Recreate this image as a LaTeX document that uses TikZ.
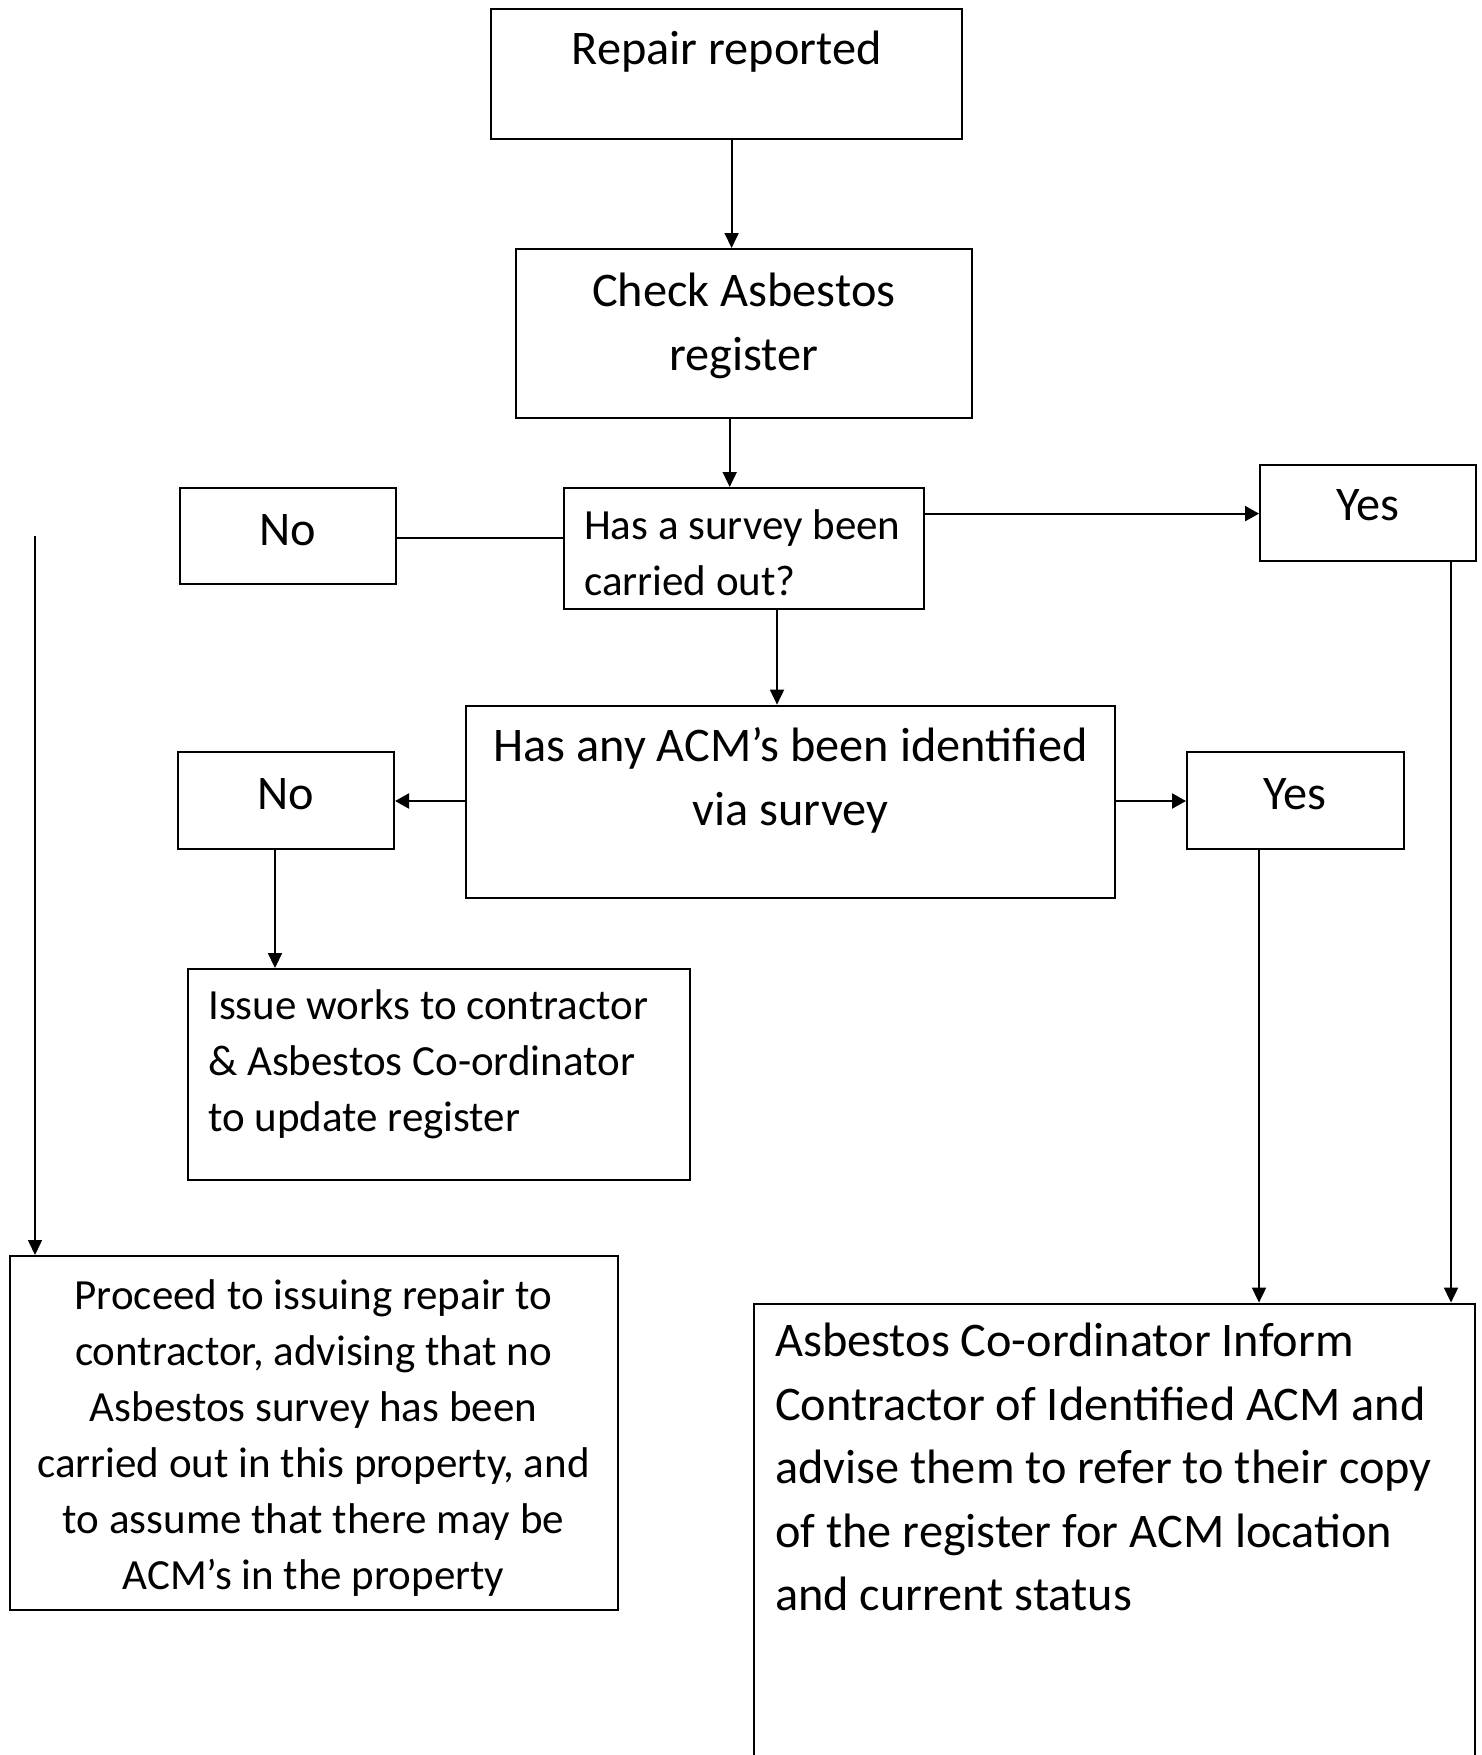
\documentclass[tikz,border=0pt]{standalone}
\usepackage{fontspec}
\setmainfont{Carlito}
\usetikzlibrary{arrows.meta}

\begin{document}
\begin{tikzpicture}[x=1pt,y=-1pt,
  box/.style={draw=black, line width=2pt, inner sep=0pt},
  big/.style={font=\fontsize{48.3}{63.5}\selectfont, inner sep=0pt},
  small/.style={font=\fontsize{43}{56}\selectfont, inner sep=0pt},
  arr/.style={-{Triangle[length=15pt,width=14pt]}, line width=1.8pt},
  harr/.style={-{Triangle[length=14pt,width=15pt]}, line width=2.2pt},
  link/.style={line width=2.2pt}]

\useasboundingbox (0,0) rectangle (1482,1755);

% boxes
\node[box, minimum width=471pt,   minimum height=130.5pt] (rep)     at (726.5,74.25)  {};
\node[box, minimum width=455.6pt, minimum height=169pt]   (check)   at (743.8,333.5)  {};
\node[box, minimum width=360pt,   minimum height=121pt]   (survey)  at (744,548.5)    {};
\node[box, minimum width=216.4pt, minimum height=96pt]    (noa)     at (287.8,536)    {};
\node[box, minimum width=216pt,   minimum height=95.7pt]  (yesa)    at (1368,512.9)   {};
\node[box, minimum width=649pt,   minimum height=192pt]   (acmq)    at (790.5,801.65) {};
\node[box, minimum width=216.3pt, minimum height=97pt]    (nob)     at (285.9,800.5)  {};
\node[box, minimum width=216.6pt, minimum height=97pt]    (yesb)    at (1295.3,800.5) {};
\node[box, minimum width=502pt,   minimum height=210.7pt] (issue)   at (439,1074.4)   {};
\node[box, minimum width=607.6pt, minimum height=354pt]   (proceed) at (314.2,1433)   {};
\node[box, minimum width=720.5pt, minimum height=461.4pt] (inform)  at (1114.25,1534.3) {};

% texts (multi-line nodes are placed by the baseline of their last line)
\node[big, anchor=base] (trep) at (726.5,65) {Repair reported};
\node[big, anchor=base, align=center] (tcheck) at (743.8,370) {Check Asbestos\\register};
\node[small, anchor=base west, align=left] (tsurvey) at (584,595) {Has a survey been\\carried out?};
\node[big, anchor=base] (tnoa) at (287.8,545) {No};
\node[big, anchor=base] (tyesa) at (1368,520) {Yes};
\node[big, anchor=base, align=center] (tacmq) at (790.5,825.4) {Has any ACM’s been identified\\via survey};
\node[big, anchor=base] (tnob) at (285.9,809.6) {No};
\node[big, anchor=base] (tyesb) at (1295.3,809.6) {Yes};
\node[small, anchor=base west, align=left] (tissue) at (208,1131.8) {Issue works to contractor\\\& Asbestos Co-ordinator\\to update register};
\node[small, anchor=base, align=center] (tproceed) at (313.5,1589) {Proceed to issuing repair to\\contractor, advising that no\\Asbestos survey has been\\carried out in this property, and\\to assume that there may be\\ACM’s in the property};
\node[big, anchor=base west, align=left] (tinform) at (775,1610.9) {Asbestos Co-ordinator Inform\\Contractor of Identified ACM and\\advise them to refer to their copy\\of the register for ACM location\\and current status};

% connector positions
\coordinate (xa) at (731.6,0);
\coordinate (xb) at (729.7,0);
\coordinate (xc) at (777,0);
\coordinate (xd) at (275,0);
\coordinate (xe) at (1259,0);
\coordinate (xf) at (1451,0);
\coordinate (ya) at (0,537.8);
\coordinate (yb) at (0,513.6);
\coordinate (yc) at (0,801);
\coordinate (freetop) at (35,536);

% connectors
\draw[arr] (rep.south -| xa) -- (check.north -| xa);
\draw[arr] (check.south -| xb) -- (survey.north -| xb);
\draw[link] (survey.west |- ya) -- (noa.east |- ya);
\draw[harr] (survey.east |- yb) -- (yesa.west |- yb);
\draw[arr] (survey.south -| xc) -- (acmq.north -| xc);
\draw[harr] (acmq.west |- yc) -- (nob.east |- yc);
\draw[harr] (acmq.east |- yc) -- (yesb.west |- yc);
\draw[arr] (nob.south -| xd) -- (issue.north -| xd);
\draw[arr] (yesb.south -| xe) -- (inform.north -| xe);
\draw[arr] (yesa.south -| xf) -- (inform.north -| xf);
\draw[arr, line width=1.5pt] (freetop) -- (freetop |- proceed.north);

\end{tikzpicture}
\end{document}
